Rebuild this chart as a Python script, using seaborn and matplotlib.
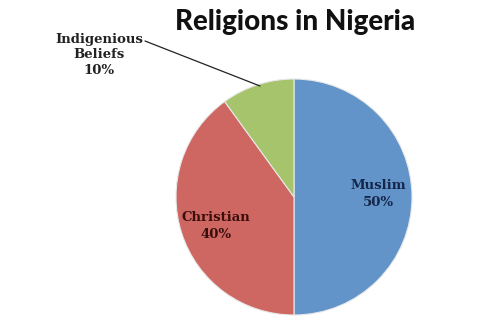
import matplotlib
matplotlib.use("Agg")
import matplotlib.pyplot as plt
import seaborn as sns

categories = ["Muslim", "Christian", "Indigenious\nBeliefs"]
shares = [50, 40, 10]
colors = ["#6294C9", "#CE6661", "#A5C46B"]
label_colors = ["#15264A", "#3A0E0C", "#222222"]

sns.set_theme(style="white")
palette = sns.color_palette(colors)

fig = plt.figure(figsize=(4.94, 3.27), dpi=100)
ax = fig.add_axes([0, 0, 1, 1])

cx, cy, r = 294, 327 - 197, 118
wedges, _ = ax.pie(shares, colors=palette, startangle=90, counterclock=False,
                   center=(cx, cy), radius=r, frame=True,
                   wedgeprops=dict(edgecolor="#E8E8E8", linewidth=0.8))
ax.set_xlim(0, 494)
ax.set_ylim(0, 327)
ax.set_aspect("equal")
ax.axis("off")

font = dict(family="DejaVu Serif", fontweight="bold", fontsize=9.5, ha="center", va="center")
labels = [f"{c}\n{s}%" for c, s in zip(categories, shares)]
ax.text(378, 327 - 194, labels[0], color=label_colors[0], linespacing=1.35, **font)
ax.text(216, 327 - 226, labels[1], color=label_colors[1], linespacing=1.35, **font)
ax.text(99, 327 - 55, labels[2], color=label_colors[2], linespacing=1.3, **font)
ax.plot([145, 260], [327 - 41, 327 - 86], color="#222222", lw=0.9)

fig.text(295 / 494, 1 - 22 / 327, "Religions in Nigeria", ha="center", va="center",
         fontsize=20, fontweight="black", family="Lato", color="#111111")

fig.savefig("out.png", dpi=100)
